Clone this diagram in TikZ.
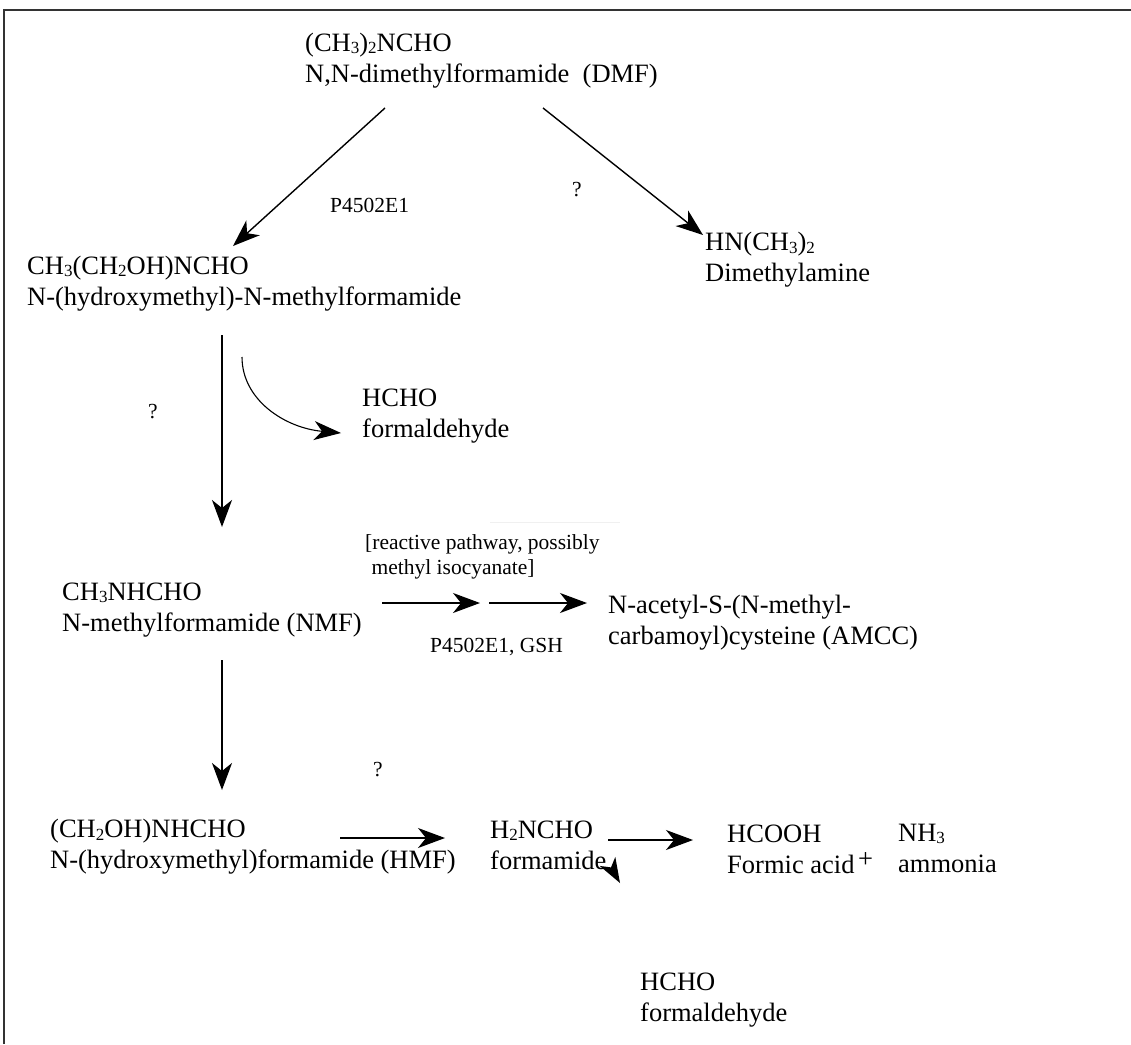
\documentclass[tikz,border=0pt]{standalone}
\usepackage{fontspec}
\setmainfont{Liberation Serif}
\usetikzlibrary{arrows.meta}
\newcommand\subn[1]{\raisebox{-0.2ex}{\fontsize{17}{17}\selectfont #1}}
\tikzset{
  chem/.style={anchor=west, inner sep=0pt, align=left, font=\fontsize{26.5}{31}\selectfont},
  lab/.style={anchor=west, inner sep=0pt, align=left, font=\fontsize{21.5}{25}\selectfont},
  rxn/.style={line width=1.4pt, -{Stealth[length=27pt,width=20pt,inset=8pt]}},
  curv/.style={line width=1.1pt, -{Stealth[length=27pt,width=19pt,inset=8pt]}},
  frame/.style={line width=1.5pt, black!80},
}
\begin{document}
\begin{tikzpicture}[x=1pt,y=-1pt]
\useasboundingbox (0,0) rectangle (1131,1044);
\fill[white] (0,0) rectangle (1131,1044);
\draw[frame] (4,1044) -- (4,10) -- (1131,10);

% compounds
\node[chem] (dmf) at (305,60.5) {(CH\subn{3})\subn{2}NCHO\\N,N-dimethylformamide\ \ (DMF)};
\node[chem] (hmmf) at (27,283.5) {CH\subn{3}(CH\subn{2}OH)NCHO\\N-(hydroxymethyl)-N-methylformamide};
\node[chem] (dma) at (705,260) {HN(CH\subn{3})\subn{2}\\Dimethylamine};
\node[chem] (hcho1) at (362,416.5) {HCHO\\formaldehyde};
\node[chem] (nmf) at (62,610) {CH\subn{3}NHCHO\\N-methylformamide (NMF)};
\node[chem] (amcc) at (608,623) {N-acetyl-S-(N-methyl-\\carbamoyl)cysteine (AMCC)};
\node[chem] (hmf) at (50,847) {(CH\subn{2}OH)NHCHO\\N-(hydroxymethyl)formamide (HMF)};
\node[chem] (fam) at (490,845) {H\subn{2}NCHO\\formamide};
\node[chem] (formic) at (727,849) {HCOOH\\Formic acid};
\node[chem] (plus) at (858,860) {+};
\node[chem] (nh3) at (898,848) {NH\subn{3}\\ammonia};
\node[chem] (hcho2) at (640,1000) {HCHO\\formaldehyde};

% labels
\node[lab] (l1) at (330,205) {P4502E1};
\node[lab] (q1) at (572,190) {?};
\node[lab] (q2) at (148,412) {?};
\node[lab] (rp) at (365,557) {[reactive pathway, possibly\\\hspace{0.3em}methyl isocyanate]};
\node[lab] (l2) at (430,647) {P4502E1, GSH};
\node[lab] (q3) at (373,770) {?};
\draw[black!6, line width=1pt] (490,522) -- (620,522);

% connector end points
\coordinate (a1s) at (385,108); \coordinate (a1e) at (233,246);
\coordinate (a2s) at (543,108); \coordinate (a2e) at (703,235);
\coordinate (a3s) at (222,335); \coordinate (a3e) at (222,527);
\coordinate (c1s) at (242,357); \coordinate (c1e) at (341,433);
\coordinate (a4s) at (382,603); \coordinate (a4e) at (480,603);
\coordinate (a5s) at (489,603); \coordinate (a5e) at (587,603);
\coordinate (a6s) at (222,660); \coordinate (a6e) at (222,790);
\coordinate (a7s) at (340,838); \coordinate (a7e) at (445,838);
\coordinate (a8s) at (608,840); \coordinate (a8e) at (693,840);

\draw[rxn] (a1s) -- (a1e);
\draw[rxn] (a2s) -- (a2e);
\draw[rxn] (a3s) -- (a3e);
\draw[curv] (c1s) .. controls (242,400) and (285,428) .. (c1e);
\draw[rxn] (a4s) -- (a4e);
\draw[rxn] (a5s) -- (a5e);
\draw[rxn] (a6s) -- (a6e);
\draw[rxn] (a7s) -- (a7e);
\draw[rxn] (a8s) -- (a8e);

% lone arrow tip
\fill (620,883) -- (599.7,865.9) -- (611,867.4) -- (615.3,856.9) -- cycle;
\end{tikzpicture}
\end{document}
